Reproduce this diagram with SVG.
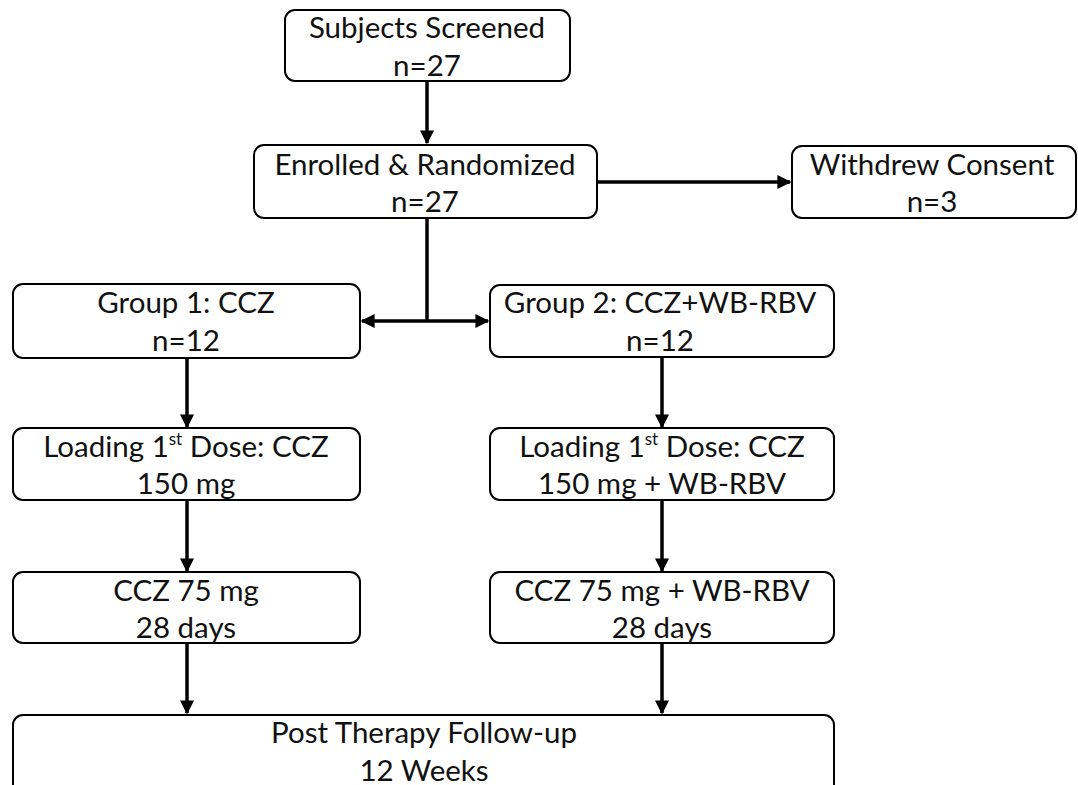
<svg xmlns="http://www.w3.org/2000/svg" width="1078" height="785" viewBox="0 0 1078 785">
<style>
.box{fill:#fff;stroke:#000;stroke-width:2}
.t{font-family:Lato,"Open Sans",sans-serif;font-size:29.5px;fill:#111;text-anchor:middle}
.c{stroke:#000;stroke-width:3.5;fill:none}
</style>
<defs>
<marker id="ah" viewBox="0 0 10 10" refX="9" refY="5" markerWidth="4" markerHeight="4" orient="auto-start-reverse" markerUnits="strokeWidth">
<path d="M0,0 L10,5 L0,10 z" fill="#000"/>
</marker>
</defs>
<rect width="1078" height="785" fill="#fff"/>
<g id="connectors">
<line class="c" x1="427" y1="81" x2="427" y2="143" marker-end="url(#ah)"/>
<line class="c" x1="597" y1="182" x2="790" y2="182" marker-end="url(#ah)"/>
<line class="c" x1="427" y1="218" x2="427" y2="321"/>
<line class="c" x1="427" y1="321" x2="362" y2="321" marker-end="url(#ah)"/>
<line class="c" x1="427" y1="321" x2="488" y2="321" marker-end="url(#ah)"/>
<line class="c" x1="187" y1="358" x2="187" y2="427" marker-end="url(#ah)"/>
<line class="c" x1="662" y1="357" x2="662" y2="427" marker-end="url(#ah)"/>
<line class="c" x1="187" y1="500" x2="187" y2="571" marker-end="url(#ah)"/>
<line class="c" x1="662" y1="500" x2="662" y2="571" marker-end="url(#ah)"/>
<line class="c" x1="187" y1="643" x2="187" y2="713" marker-end="url(#ah)"/>
<line class="c" x1="662" y1="643" x2="662" y2="713" marker-end="url(#ah)"/>
</g>
<g id="screened">
<rect class="box" x="285" y="10" width="285" height="71" rx="10"/>
<text class="t" x="427" y="38">Subjects Screened</text>
<text class="t" x="427" y="76">n=27</text>
</g>
<g id="enrolled">
<rect class="box" x="254" y="145" width="343" height="73" rx="10"/>
<text class="t" x="425" y="175">Enrolled &amp; Randomized</text>
<text class="t" x="425" y="212">n=27</text>
</g>
<g id="withdrew">
<rect class="box" x="792" y="146" width="284" height="72" rx="10"/>
<text class="t" x="932" y="175">Withdrew Consent</text>
<text class="t" x="932" y="212">n=3</text>
</g>
<g id="group1">
<rect class="box" x="13" y="284" width="347" height="74" rx="10"/>
<text class="t" x="186" y="313">Group 1: CCZ</text>
<text class="t" x="186" y="351">n=12</text>
</g>
<g id="group2">
<rect class="box" x="490" y="285" width="344" height="72" rx="10"/>
<text class="t" x="660" y="313">Group 2: CCZ+WB-RBV</text>
<text class="t" x="660" y="351">n=12</text>
</g>
<g id="loading1">
<rect class="box" x="13" y="428" width="347" height="72" rx="10"/>
<text class="t" x="186" y="457">Loading 1<tspan font-size="17" dy="-12">st</tspan><tspan dy="12"> Dose: CCZ</tspan></text>
<text class="t" x="186" y="494">150 mg</text>
</g>
<g id="loading2">
<rect class="box" x="490" y="428" width="344" height="72" rx="10"/>
<text class="t" x="662" y="457">Loading 1<tspan font-size="17" dy="-12">st</tspan><tspan dy="12"> Dose: CCZ</tspan></text>
<text class="t" x="662" y="494">150 mg + WB-RBV</text>
</g>
<g id="maint1">
<rect class="box" x="13" y="572" width="347" height="71" rx="10"/>
<text class="t" x="186" y="601">CCZ 75 mg</text>
<text class="t" x="186" y="638">28 days</text>
</g>
<g id="maint2">
<rect class="box" x="490" y="572" width="344" height="71" rx="10"/>
<text class="t" x="662" y="601">CCZ 75 mg + WB-RBV</text>
<text class="t" x="662" y="638">28 days</text>
</g>
<g id="followup">
<rect class="box" x="13" y="715" width="821" height="90" rx="10"/>
<text class="t" x="424" y="743">Post Therapy Follow-up</text>
<text class="t" x="424" y="781">12 Weeks</text>
</g>
</svg>
